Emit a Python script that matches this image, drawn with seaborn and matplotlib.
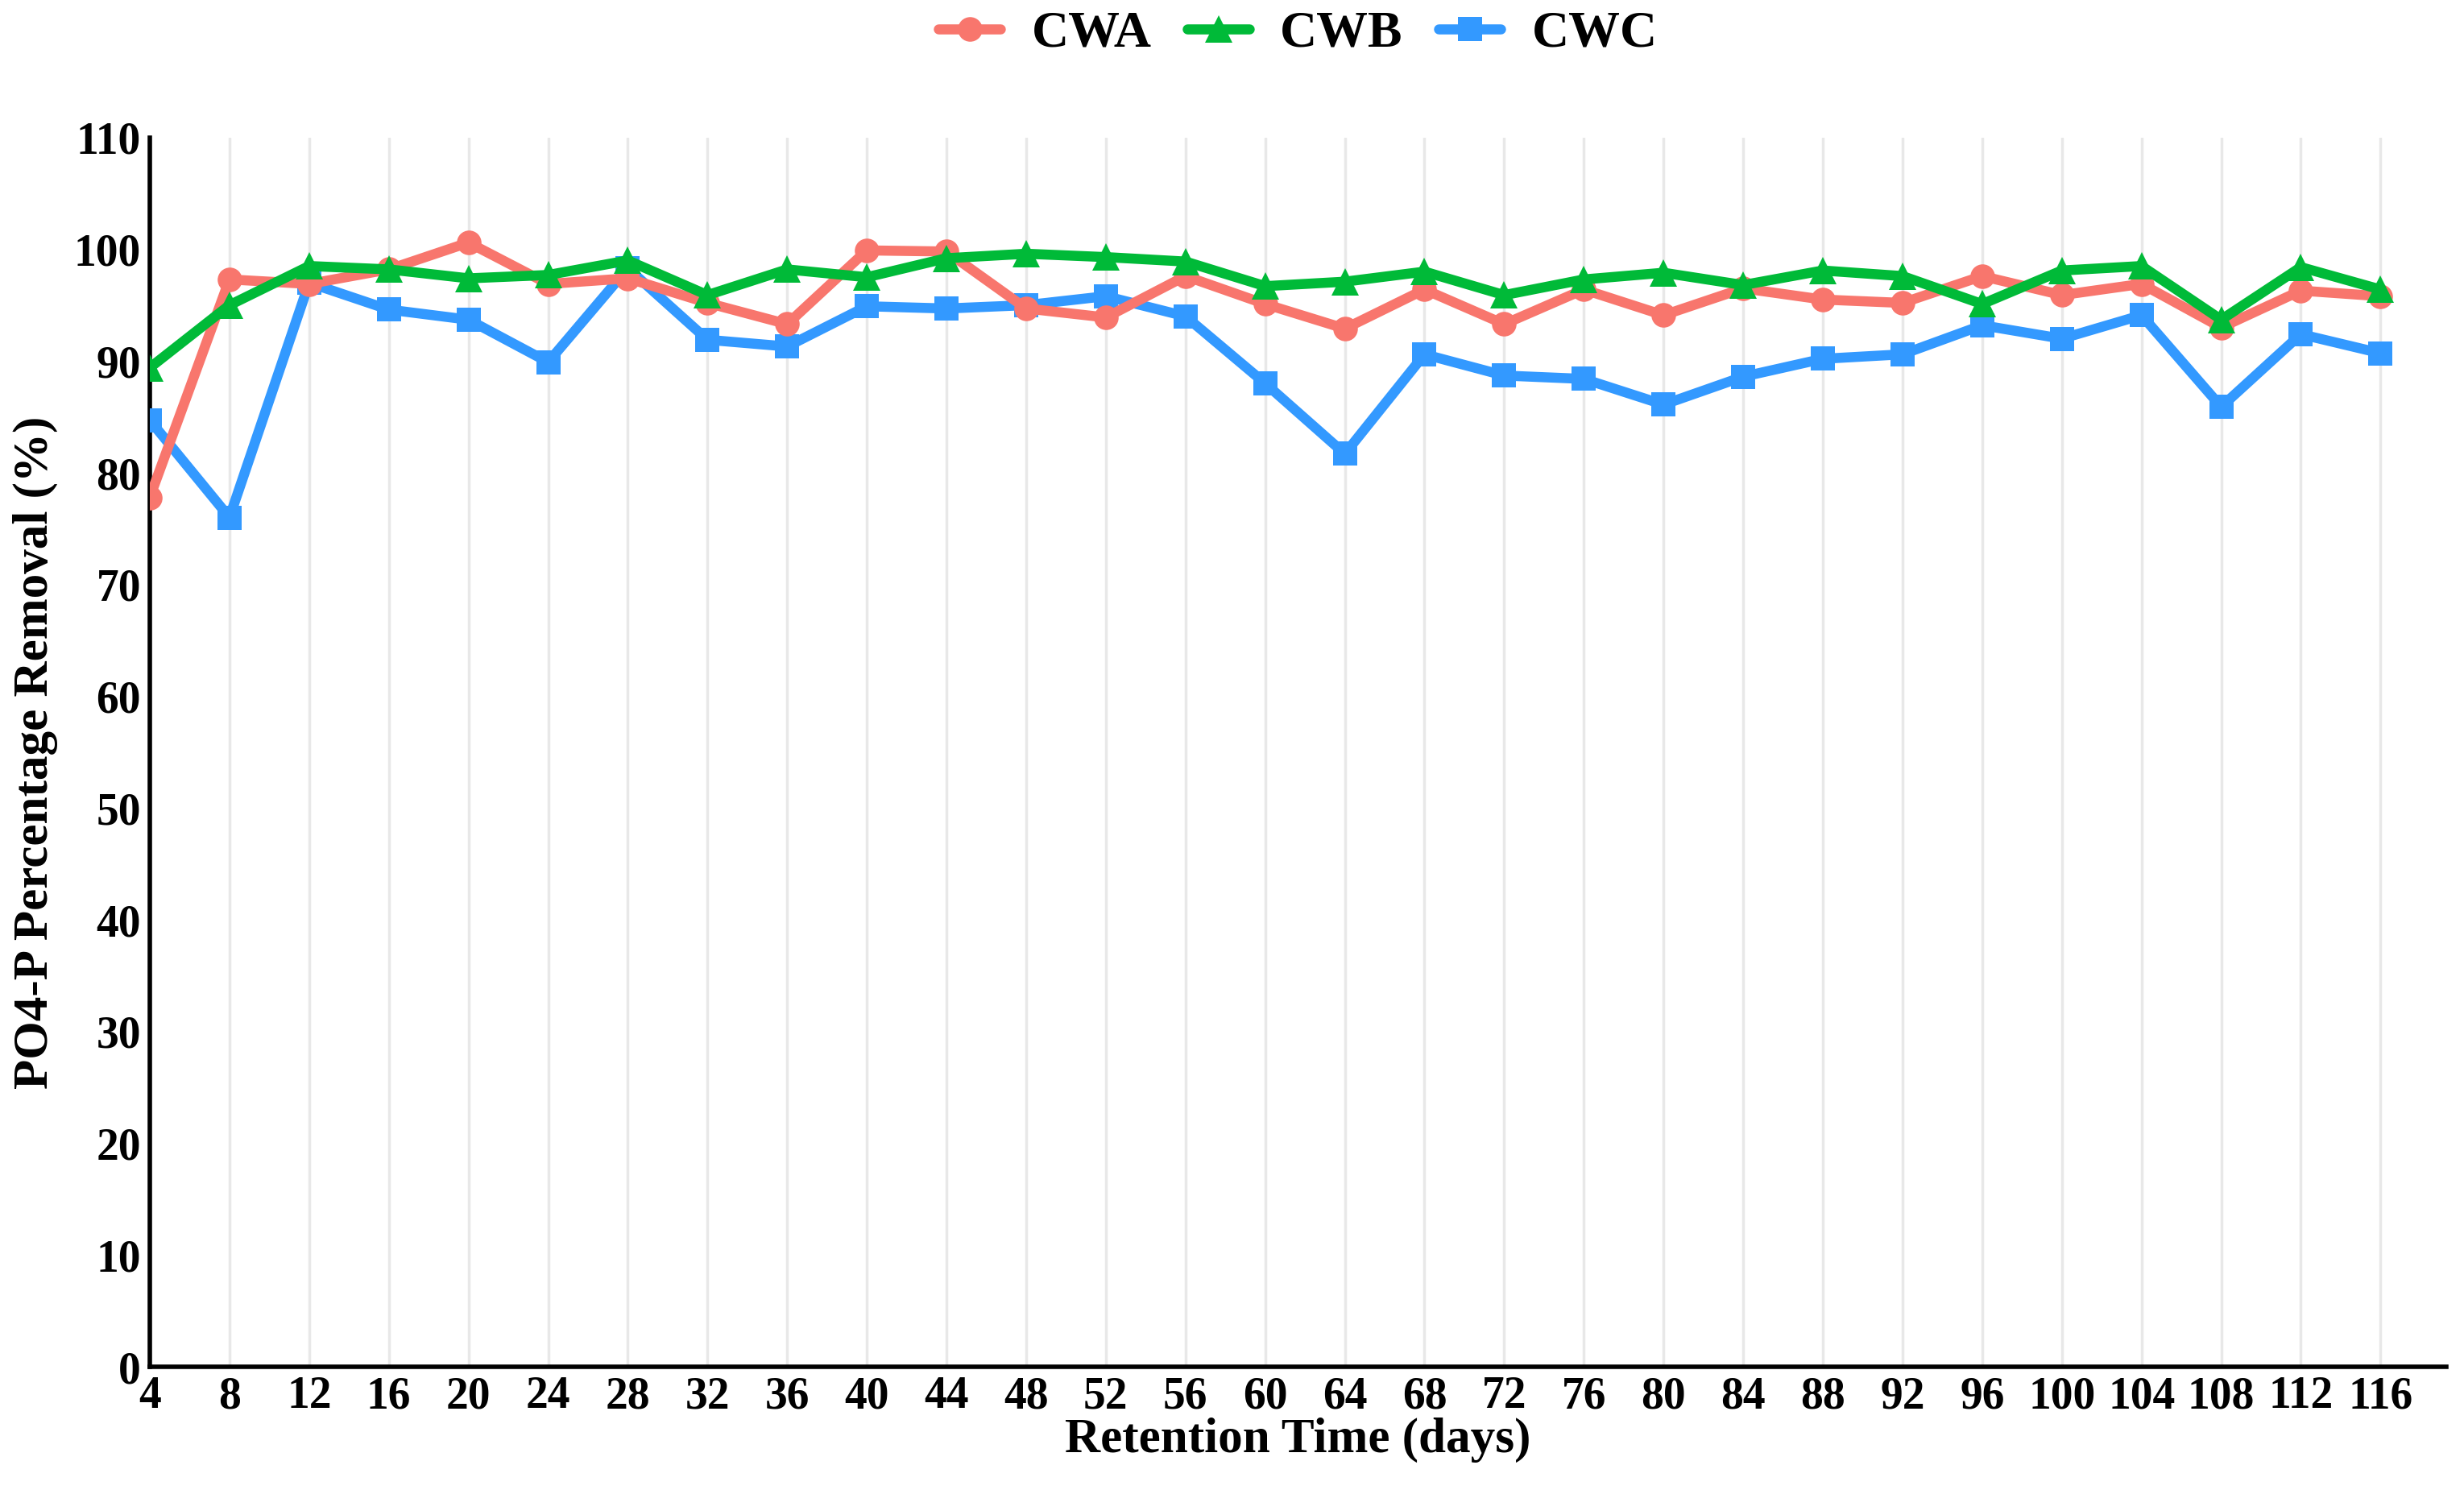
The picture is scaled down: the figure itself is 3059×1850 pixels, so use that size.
import matplotlib.pyplot as plt
import pandas as pd
import seaborn as sns

# retention time (days)
days = list(range(4, 117, 4))

cwa = [77.8, 97.3, 96.9, 98.2, 100.6, 96.9, 97.4, 95.2, 93.3, 99.9,
       99.8, 94.7, 93.9, 97.6, 95.1, 92.9, 96.4, 93.3, 96.4, 94.1,
       96.5, 95.5, 95.2, 97.6, 95.9, 96.9, 93.0, 96.3, 95.8]
cwb = [89.4, 95.0, 98.5, 98.2, 97.4, 97.7, 99.0, 95.9, 98.2, 97.5,
       99.2, 99.6, 99.3, 98.9, 96.7, 97.1, 98.0, 95.9, 97.3, 97.9,
       96.8, 98.1, 97.6, 95.1, 98.1, 98.5, 93.7, 98.4, 96.4]
cwc = [84.7, 76.0, 97.0, 94.6, 93.7, 89.9, 98.3, 91.9, 91.3, 94.9,
       94.7, 95.0, 95.8, 94.0, 88.0, 81.7, 90.6, 88.7, 88.4, 86.1,
       88.6, 90.2, 90.6, 93.2, 92.0, 94.1, 85.9, 92.4, 90.7]

series = {'CWA': cwa, 'CWB': cwb, 'CWC': cwc}
colors = {'CWA': '#F8766D', 'CWB': '#00BA38', 'CWC': '#3399FF'}
markers = {'CWA': 'o', 'CWB': '^', 'CWC': 's'}
msizes = {'CWA': 22, 'CWB': 25, 'CWC': 21}

frames = []
for name, vals in series.items():
    frames.append(pd.DataFrame({'Day': days, 'Removal': vals, 'Unit': name}))
data = pd.concat(frames, ignore_index=True)

sns.set_style('white')
plt.rcParams['font.family'] = ['Liberation Serif', 'DejaVu Serif']
plt.rcParams['font.weight'] = 'bold'
plt.rcParams['text.color'] = 'black'
plt.rcParams['axes.labelcolor'] = 'black'
plt.rcParams['xtick.color'] = 'black'
plt.rcParams['ytick.color'] = 'black'

fig = plt.figure(figsize=(30.59, 18.5), dpi=100)
ax = fig.add_axes([0.0608, 0.0827, 0.932, 0.825])

# draw blue first, then red, green on top
for name, z in [('CWC', 3), ('CWA', 4), ('CWB', 5)]:
    sub = data[data['Unit'] == name]
    sns.lineplot(data=sub, x='Day', y='Removal', ax=ax, color=colors[name],
                 marker=markers[name], markersize=msizes[name],
                 markeredgewidth=0, linewidth=9, label=name, zorder=z)

ax.set_xlim(4, 119.3)
ax.set_ylim(0, 110)
ax.set_xticks(days)
ax.set_yticks(range(0, 111, 10))
ax.tick_params(axis='both', length=0, labelsize=40, pad=8)
for lab in ax.get_xticklabels() + ax.get_yticklabels():
    lab.set_fontweight('bold')

ax.grid(axis='x', color='#E8E8E8', linewidth=2.5)
ax.grid(axis='y', visible=False)
ax.set_axisbelow(True)
for side in ['top', 'right']:
    ax.spines[side].set_visible(False)
for side in ['left', 'bottom']:
    ax.spines[side].set_color('black')
    ax.spines[side].set_linewidth(4)

ax.set_xlabel('Retention Time (days)', fontsize=44, fontweight='bold',
              labelpad=0)
ax.set_ylabel('PO4-P Percentage Removal (%)', fontsize=44,
              fontweight='bold', labelpad=14)

handles, labels = ax.get_legend_handles_labels()
order = [labels.index(n) for n in ['CWA', 'CWB', 'CWC']]
ax.legend([handles[i] for i in order], [labels[i] for i in order],
          loc='center', bbox_to_anchor=(0.5, 1.084), ncol=3, frameon=False,
          prop={'size': 46, 'weight': 'bold'}, handlelength=1.2,
          columnspacing=0.7, handletextpad=0.6)

fig.savefig('out.png', dpi=100)
